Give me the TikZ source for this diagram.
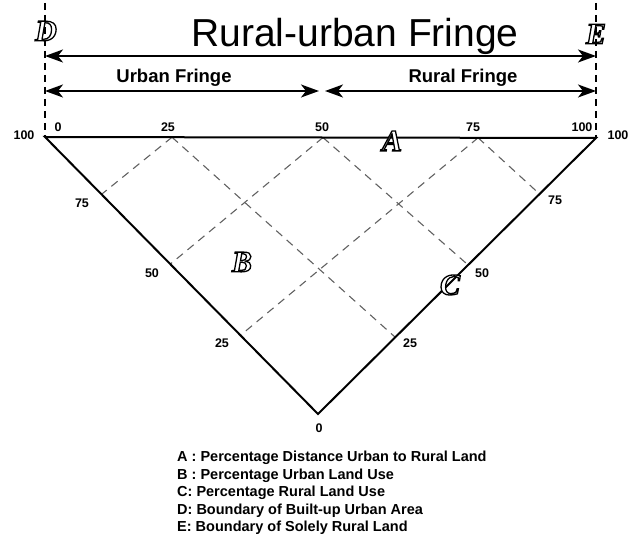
\documentclass[tikz,border=0pt]{standalone}
\usepackage{fontspec}
\setmainfont{Liberation Sans}
\newfontfamily\lettfont{Liberation Serif}
\usetikzlibrary{arrows.meta,calc}
\newcommand\hollowtxt[1]{{\color{white}\special{pdf:literal direct 2 Tr 1.3 w 0 0 0 RG}#1\special{pdf:literal direct 0 Tr}}}
\tikzset{
  side/.style={line width=2pt, black},
  gridline/.style={draw=black!62, line width=1.1pt, dash pattern=on 8pt off 6pt},
  bound/.style={line width=1.4pt, dash pattern=on 7pt off 5pt},
  dimline/.style={line width=1.8pt, {Stealth[length=18pt,width=13pt,inset=5pt]}-{Stealth[length=18pt,width=13pt,inset=5pt]}},
  num/.style={font=\bfseries\fontsize{12.5}{14}\selectfont, inner sep=0pt},
  letter/.style={font=\lettfont\bfseries\itshape\fontsize{30}{32}\selectfont, inner sep=0pt},
  fringe/.style={font=\bfseries\fontsize{18.5}{20}\selectfont, anchor=base, inner sep=0pt},
  legendtxt/.style={font=\bfseries\fontsize{14.5}{16}\selectfont, anchor=base west, inner sep=0pt}
}
\begin{document}
\begin{tikzpicture}[x=1pt,y=-1pt]
\useasboundingbox (0,0) rectangle (630,537);
% main points
\coordinate (TL) at (45,137);
\coordinate (TR) at (596,138);
\coordinate (BO) at (318,414);
\coordinate (T25) at ($(TL)!0.2305!(TR)$);
\coordinate (T50) at ($(TL)!0.5045!(TR)$);
\coordinate (T75) at ($(TL)!0.786!(TR)$);
\coordinate (L75) at ($(TL)!0.207!(BO)$);
\coordinate (L50) at ($(TL)!0.459!(BO)$);
\coordinate (L25) at ($(TL)!0.716!(BO)$);
\coordinate (R75) at ($(TR)!0.203!(BO)$);
\coordinate (R50) at ($(TR)!0.46!(BO)$);
\coordinate (R25) at ($(TR)!0.722!(BO)$);
% boundary lines
\coordinate (Dtop) at (45,3);
\coordinate (Etop) at (596,3);
\draw[bound] (Dtop) -- (TL);
\draw[bound] (Etop) -- (TR);
% grid
\draw[gridline] (T25) -- (L75);
\draw[gridline] (T25) -- (R25);
\draw[gridline] (T50) -- (L50);
\draw[gridline] (T50) -- (R50);
\draw[gridline] (T75) -- (L25);
\draw[gridline] (T75) -- (R75);
% triangle
\draw[side, line join=miter] (TR) -- (TL) -- (BO) -- cycle;
% dimension arrows
\coordinate (a1) at (45,56);
\coordinate (a2) at (596,56);
\coordinate (b1) at (45,91);
\coordinate (bmL) at (319,91);
\coordinate (bmR) at (325,91);
\coordinate (b2) at (596,91);
\draw[dimline] (a1) -- (a2);
\draw[dimline] (b1) -- (bmL);
\draw[dimline] (bmR) -- (b2);
% titles
\node[font=\fontsize{39}{42}\selectfont, anchor=base, inner sep=0pt] (title) at (355,47) {Rural-urban Fringe};
\node[fringe] (uf) at (174,83) {Urban Fringe};
\node[fringe] (rf) at (463,83) {Rural Fringe};
% numbers
\node[num] (n100L) at (24,135) {100};
\node[num] (nT0) at (58,127) {0};
\node[num] (nT25) at (168,127) {25};
\node[num] (nT50) at (322,127) {50};
\node[num] (nT75) at (473,127) {75};
\node[num] (nT100) at (582,127) {100};
\node[num] (n100R) at (618,135) {100};
\node[num] (nL75) at (82,203) {75};
\node[num] (nL50) at (152,273) {50};
\node[num] (nL25) at (222,343) {25};
\node[num] (nR75) at (555,200) {75};
\node[num] (nR50) at (482,273) {50};
\node[num] (nR25) at (410,343) {25};
\node[num] (nB0) at (319,428) {0};
% letters
\node[letter] (lA) at (392,141) {\hollowtxt{A}};
\node[letter] (lB) at (242,262) {\hollowtxt{B}};
\node[letter] (lC) at (450,285) {\hollowtxt{C}};
\node[letter] (lD) at (46,31) {\hollowtxt{D}};
\node[letter] (lE) at (596,34) {\hollowtxt{E}};
% legend
\node[legendtxt] (leg1) at (177,462) {A : Percentage Distance Urban to Rural Land};
\node[legendtxt] (leg2) at (177,479.5) {B : Percentage Urban Land Use};
\node[legendtxt] (leg3) at (177,497) {C: Percentage Rural Land Use};
\node[legendtxt] (leg4) at (177,514.5) {D: Boundary of Built-up Urban Area};
\node[legendtxt] (leg5) at (177,532) {E: Boundary of Solely Rural Land};
\end{tikzpicture}
\end{document}
